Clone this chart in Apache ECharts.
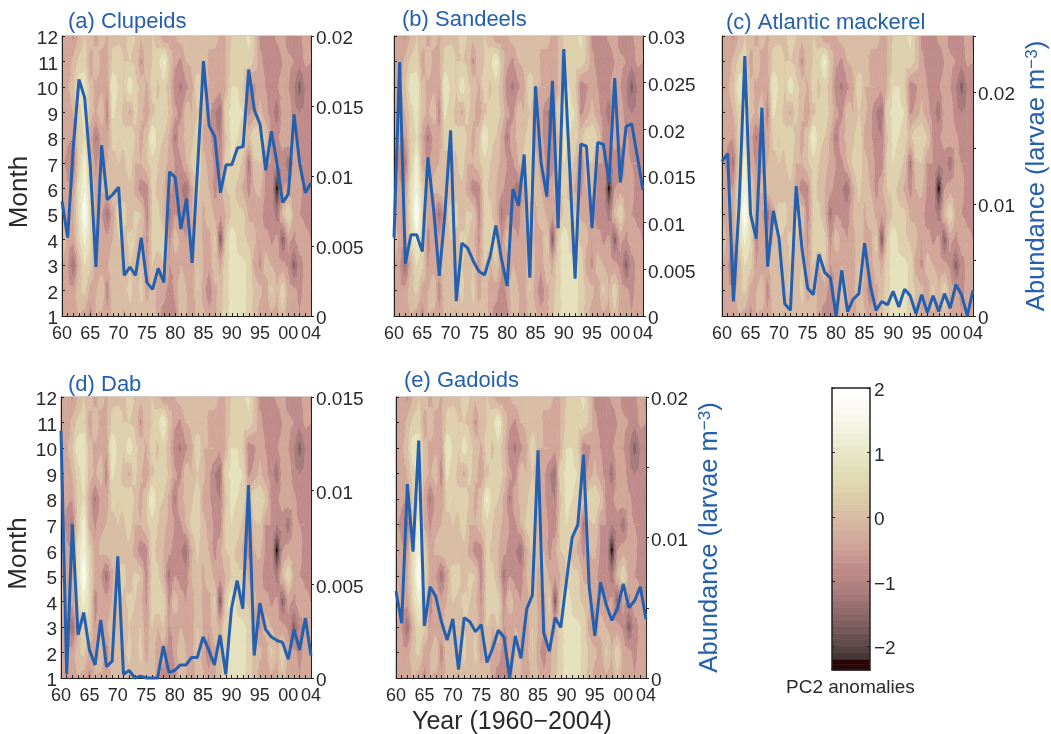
<!DOCTYPE html>
<html><head><meta charset="utf-8">
<style>html,body{margin:0;padding:0;background:#fff}#c{width:1051px;height:734px}</style>
<script src="https://cdn.jsdelivr.net/npm/echarts@6/dist/echarts.min.js"></script>
</head><body><div id="c"></div>
<script>
const years=[1960,1961,1962,1963,1964,1965,1966,1967,1968,1969,1970,1971,1972,1973,1974,1975,1976,1977,1978,1979,1980,1981,1982,1983,1984,1985,1986,1987,1988,1989,1990,1991,1992,1993,1994,1995,1996,1997,1998,1999,2000,2001,2002,2003,2004];
const months=[1,2,3,4,5,6,7,8,9,10,11,12];
// PC2 anomalies, one row per month (1 to 12), one column per year (1960 to 2004)
const pc2m1 =[-.2,-.5,-.3,-.2,-.4,-.8,-.2,-.3,-.5,-.1,.1,-.3,.1,-.2,.1,.1,.2,-.5,-.8,-1,-.8,0,-.2,-.5,-.1,-.1,-.4,-.3,.1,.5,.7,.7,.7,.4,0,-.4,-.4,-.3,-.4,.1,-.5,-.5,-.6,-.4,-.6];
const pc2m2 =[-.3,-.5,-.5,.1,.3,-.4,-.2,.2,-.9,.1,-.1,.1,.3,-.1,.3,-.5,.1,-.5,-.4,-.9,-.5,.1,-.2,-.4,.2,-.4,-1,-.3,-.1,.5,.7,.7,.7,.5,.1,-.1,-.5,.3,-.2,.5,-.4,-.5,-.7,-.5,-.6];
const pc2m3 =[-.3,-.6,-1.4,-.2,.6,.3,-.6,-.4,-.3,.2,.1,-.2,.2,.1,.2,-.6,.2,-.2,.2,-.6,-.5,-.2,-.4,-.5,.2,-.2,-.5,.1,-.3,.5,.7,.7,.7,.5,-.4,-.7,0,-.2,-.4,-.5,-.7,-1.6,-.8,-.5,-.5];
const pc2m4 =[.3,-.4,-.5,.5,1.1,.6,-.9,-.2,-.5,-.2,.2,.1,.3,.2,-.1,-.7,.3,.5,.4,-.7,.1,-.4,-.6,-.4,.1,-.3,-.4,.3,-1.7,.2,1,.5,.3,.1,-.1,-.6,-.4,-.7,-.5,-1.6,-.5,-.7,-.3,-.5,-.6];
const pc2m5 =[-.3,-.5,-.3,.6,1.8,.5,-.3,-.6,-1.3,-.4,.5,.3,-.1,.3,.2,-.9,.2,.3,-.2,-1.2,-.6,-.8,-.8,-.2,.1,-.3,.1,-.3,-.6,-.2,.2,.3,.3,-.3,-.3,-.4,-.9,-.7,-1.2,-.1,.6,-.4,-.6,-.7,-.7];
const pc2m6 =[-.1,-.5,-.6,.7,1.3,.4,-.5,-.1,0,.2,-.2,.1,.1,-.4,-.9,-.8,.3,.1,-.2,-.5,-.8,-1,-1.3,-.3,.3,-.1,-.2,-.8,-.3,.2,.3,.1,-.3,-.8,-.2,-.1,-.7,-.7,-2.4,-.6,-.4,-.4,-.5,-.8,-1];
const pc2m7 =[-.5,-.8,-1.2,.3,1.2,-.3,-.7,-.3,-.2,.1,.2,.1,.4,-.2,-.2,.1,.4,.2,-.1,-.3,-.6,-.7,-.2,.3,.5,-.1,-.3,-.7,-.9,.3,.6,.4,.1,-1.2,.1,.2,-.6,-.6,-1,-.8,-1.3,-.5,-.6,-.6,-.8];
const pc2m8 =[-.2,-.5,-.6,.3,.6,-.4,-1.1,-.5,-.5,.3,.2,.3,.6,.1,-.4,.1,1.1,.3,.2,-.3,-1.1,-.3,-.1,.1,.5,-.3,-.5,-.9,-1,.1,.7,.6,.4,0,.6,.6,.2,-.7,-.7,-.4,-.3,-.5,-.8,-.7,-.7];
const pc2m9 =[-.5,-.4,-.2,.4,.8,0,-.3,.1,-.9,.7,.3,.1,-.3,.3,-.1,-.6,.1,.3,.5,.1,-.5,-.8,.1,-.2,.2,-.1,-.5,-1,-1.3,.5,.7,.7,.6,-.7,-.5,-.1,-.5,-.8,-1.3,-.4,-.3,-.9,-1,-.9,-.8];
const pc2m10=[-.5,-.3,.1,.9,.9,-.1,-.3,-.3,-.6,1,.5,.2,.9,.3,.1,-.3,.4,.1,.4,-.1,-.9,-1.1,-.7,-.3,.6,-.2,-.2,-.2,-.5,-.2,.6,.6,.2,-.9,-.7,-.3,-.6,-.8,-.7,-.3,-.6,-1,-1.6,-1,-.9];
const pc2m11=[-.5,-.5,-.1,.3,.4,-.5,.1,-.4,-.3,.3,.4,.2,.2,.1,-.7,.1,.2,.4,1.1,.1,-.5,-.7,-.2,-.1,-.1,.2,-.3,-.4,-.6,-.2,.3,.3,.3,.5,.1,-.5,-.8,-.9,-.9,-.6,-.5,-.6,-.9,-.5,-.6];
const pc2m12=[-.6,-.3,-.7,-.2,.2,.1,-.4,0,-.3,.1,.1,.1,.3,.2,-.1,.1,.2,0,-.6,-.5,-.2,0,.1,.1,.1,-.2,-.1,0,-.3,-.2,.2,.2,.5,.7,.1,-.7,-.8,-.8,-.5,-.4,-.8,-.9,-.9,-.2,-.7];
const pc2Field=[pc2m1,pc2m2,pc2m3,pc2m4,pc2m5,pc2m6,pc2m7,pc2m8,pc2m9,pc2m10,pc2m11,pc2m12];
// larvae abundance per year
const clupeids=[.0082,.0056,.0121,.0169,.0156,.0107,.0035,.0122,.0083,.0087,.0092,.0029,.0035,.0029,.0056,.0024,.0019,.0034,.0024,.0103,.0099,.0062,.0084,.0038,.0109,.0182,.0136,.0128,.0088,.0108,.0108,.012,.0121,.0176,.0147,.0137,.0104,.0132,.0109,.0081,.0087,.0144,.0109,.0088,.0095];
const sandeels=[.0084,.0272,.0056,.0087,.0087,.0069,.017,.0114,.0043,.011,.0199,.0016,.0078,.0073,.0059,.0048,.0044,.0064,.0097,.0061,.0032,.0136,.0118,.0173,.0041,.0246,.0164,.0128,.0252,.0094,.0286,.0164,.004,.0184,.0182,.0094,.0186,.0184,.0143,.0255,.0143,.0203,.0206,.0171,.0135];
const mackerel=[.0138,.0145,.0013,.0099,.0232,.0091,.0069,.0186,.0044,.0094,.0069,.0011,.0005,.0116,.0061,.0025,.0019,.0055,.0039,.0034,0,.0041,.0004,.0015,.002,.0065,.0027,.0005,.0013,.001,.0022,.0008,.0024,.0018,.0002,.0019,.0003,.0018,.0004,.002,.0007,.0028,.0019,0,.0023];
const dab=[.0132,.0002,.0082,.0023,.0035,.0015,.0007,.0031,.0006,.0009,.0065,.0002,.0004,0,.0001,0,0,0,.0017,.0003,.0004,.0007,.0007,.0011,.0011,.0022,.0015,.0007,.0023,.0002,.0037,.0052,.0037,.0103,.0012,.004,.0026,.0022,.002,.0019,.001,.0026,.0015,.0032,.0012];
const gadoids=[.0062,.0039,.0138,.009,.0169,.0037,.0065,.0058,.004,.0027,.0042,.0006,.0043,.004,.0033,.0038,.0011,.0021,.0034,.0029,0,.003,.0014,.0049,.0059,.0162,.0032,.0019,.0043,.0036,.0069,.01,.0109,.0159,.0065,.003,.0068,.0052,.0041,.005,.0067,.005,.0055,.0065,.0042];
const panelTitles=['(a) Clupeids','(b) Sandeels','(c) Atlantic mackerel','(d) Dab','(e) Gadoids'];
const panelSeries=[clupeids,sandeels,mackerel,dab,gadoids];
const panelMax=[.02,.03,.025,.015,.02];
const panelLabels=[[0,.005,.01,.015,.02],[0,.005,.01,.015,.02,.025,.03],[0,.01,.02],[0,.005,.01,.015],[0,.01,.02]];
const contourLevels=[-3,-2.2,-1.8,-1.4,-1,-.6,-.2,.2,.6,1,1.4,1.8,2.5];
const colourValues=[2,1.5,1,.6,.3,0,-.4,-.8,-1.2,-1.6,-2,-2.25,-2.37];
const colourStops=['#ffffff','#f6f6ea','#e8e8c6','#e1dab4','#dccba9','#d8bca4','#d1a698','#bf8b89','#a67a7b','#846363','#5a4747','#3a2c2c','#2a0505'];
const barLevels=[-2.37,-2.28,-2.2,-2.1,-2,-1.9,-1.8,-1.7,-1.6,-1.5,-1.4,-1.3,-1.2,-1.1,-1,-.9,-.8,-.7,-.6,-.5,-.4,-.3,-.2,-.1,0,.1,.2,.3,.4,.5,.6,.7,.8,.9,1,1.1,1.2,1.3,1.4,1.5,1.6,1.7,1.8,1.9,2];
const barTicks=[-2,-1,0,1,2];

const FONT='"Liberation Sans",Arial,sans-serif', INK='#2a2a2a', BLUE='#2460ae';
const rects=[[62,36,249,280],[394,36,249,280],[722,36,251,280],[61,397,250,281],[396,397,250,281]];
const titleLeft=[68,402,726,68,404], titleTop=[11,9,12,374,370];

function hex(c){return [1,3,5].map(i=>parseInt(c.substr(i,2),16));}
function colourAt(v){
  for(let i=0;i<colourValues.length-1;i++){
    const a=colourValues[i],b=colourValues[i+1];
    if(v<=a&&v>=b){const t=(a-v)/(a-b),p=hex(colourStops[i]),q=hex(colourStops[i+1]);
      return 'rgb('+p.map((x,k)=>Math.round(x+(q[k]-x)*t)).join(',')+')';}
  }
  return v>2?colourStops[0]:colourStops[colourStops.length-1];
}
function clip(poly,level,above){
  const out=[];
  for(let i=0;i<poly.length;i++){
    const a=poly[i],b=poly[(i+1)%poly.length];
    const ain=above?a[2]>=level:a[2]<=level,bin=above?b[2]>=level:b[2]<=level;
    if(ain)out.push(a);
    if(ain!==bin){const t=(level-a[2])/(b[2]-a[2]);out.push([a[0]+(b[0]-a[0])*t,a[1]+(b[1]-a[1])*t,level]);}
  }
  return out;
}
const cells=[];
for(let m=0;m<months.length-1;m++)for(let y=0;y<years.length-1;y++)
  cells.push([years[y],months[m],pc2Field[m][y],pc2Field[m][y+1],pc2Field[m+1][y+1],pc2Field[m+1][y]]);

function renderCell(params,api){
  const x=api.value(0),y=api.value(1),a=api.value(2),b=api.value(3),c=api.value(4),d=api.value(5);
  const cen=[x+.5,y+.5,(a+b+c+d)/4];
  const q=[[x,y,a],[x+1,y,b],[x+1,y+1,c],[x,y+1,d]];
  const children=[];
  for(let i=0;i<4;i++){
    const tri=[q[i],q[(i+1)%4],cen];
    const lo=Math.min(tri[0][2],tri[1][2],tri[2][2]),hi=Math.max(tri[0][2],tri[1][2],tri[2][2]);
    for(let l=0;l<contourLevels.length-1;l++){
      const L=contourLevels[l],H=contourLevels[l+1];
      if(hi<L||lo>H)continue;
      let p=clip(tri,L,true);if(p.length<3)continue;
      p=clip(p,H,false);if(p.length<3)continue;
      const col=colourAt(L<-2.5?-2.37:(L+H)/2);
      children.push({type:'polygon',shape:{points:p.map(v=>api.coord([v[0],v[1]]))},style:{fill:col,stroke:col,lineWidth:.7},silent:true});
    }
  }
  return {type:'group',children};
}
function renderBar(params,api){
  const lo=api.value(0),hi=api.value(1);
  const p=api.coord([0,hi]),r=api.coord([1,lo]);
  const col=colourAt(lo<=-2.28?-2.37:(lo+hi)/2);
  return {type:'rect',shape:{x:p[0],y:p[1],width:r[0]-p[0],height:r[1]-p[1]+.6},style:{fill:col},silent:true};
}
const axisLine={show:true,onZero:false,lineStyle:{color:'#222',width:1}};
const grid=[],xAxis=[],yAxis=[],series=[],title=[];
rects.forEach((r,i)=>{
  grid.push({left:r[0],top:r[1],width:r[2],height:r[3],show:true,borderColor:'#a8948c',borderWidth:1,backgroundColor:'transparent'});
  xAxis.push({gridIndex:i,type:'value',min:1960,max:2004,interval:1,z:5,axisLine,splitLine:{show:false},
    axisTick:{show:true,inside:true,length:3,lineStyle:{color:'#222'}},
    axisLabel:{show:true,showMinLabel:true,showMaxLabel:true,hideOverlap:false,interval:0,margin:9,color:INK,fontFamily:FONT,fontSize:18,
      formatter:v=>(v%5===0||v===2004)?String(v%100).padStart(2,'0'):''}});
  const showMonth=i===0||i===3;
  yAxis.push({gridIndex:i,type:'value',position:'left',min:1,max:12,interval:1,z:5,axisLine,splitLine:{show:false},
    axisTick:{show:true,inside:true,length:3,lineStyle:{color:'#222'}},
    axisLabel:{show:showMonth,margin:4,verticalAlign:'top',lineHeight:6,color:INK,fontFamily:FONT,fontSize:19},
    name:showMonth?'Month':'',nameLocation:'middle',nameGap:23,nameTextStyle:{color:INK,fontFamily:FONT,fontSize:26,padding:[0,32,0,0]}});
  const withAbundance=i===2||i===4;
  yAxis.push({gridIndex:i,type:'value',position:'right',min:0,max:panelMax[i],interval:.005,z:5,axisLine,splitLine:{show:false},
    axisTick:{show:true,inside:false,length:3,lineStyle:{color:'#222'}},
    axisLabel:{show:true,margin:5,verticalAlign:'top',lineHeight:6,color:INK,fontFamily:FONT,fontSize:19,
      formatter:v=>panelLabels[i].some(t=>Math.abs(t-v)<1e-6)?String(+v.toFixed(3)):''},
    name:withAbundance?'{a|Abundance (larvae m}{s|\u22123}{a|)}':'',nameLocation:'middle',nameGap:51,
    nameTextStyle:{color:BLUE,fontFamily:FONT,fontSize:25.5,rich:{a:{color:BLUE,fontFamily:FONT,fontSize:25.5},s:{color:BLUE,fontFamily:FONT,fontSize:17,verticalAlign:'top'}}}});
  series.push({type:'custom',xAxisIndex:i,yAxisIndex:2*i,coordinateSystem:'cartesian2d',data:cells,renderItem:renderCell,
    encode:{x:0,y:1},animation:false,progressive:0,silent:true,z:1,clip:true});
  series.push({type:'line',xAxisIndex:i,yAxisIndex:2*i+1,data:years.map((y,k)=>[y,panelSeries[i][k]]),showSymbol:false,
    lineStyle:{color:BLUE,width:3},animation:false,silent:true,z:8,clip:false});
  title.push({text:panelTitles[i],left:titleLeft[i],top:titleTop[i],padding:0,
    textStyle:{color:BLUE,fontFamily:FONT,fontSize:22,fontWeight:'normal'}});
});
// colour bar
const bi=rects.length;
grid.push({left:832,top:388,width:38,height:282,show:false});
xAxis.push({gridIndex:bi,type:'value',min:0,max:1,position:'bottom',z:5,axisLine:{show:true,onZero:false,lineStyle:{color:'#222',width:1.5}},axisTick:{show:false},axisLabel:{show:false},splitLine:{show:false}});
xAxis.push({gridIndex:bi,type:'value',min:0,max:1,position:'top',z:5,axisLine:{show:true,onZero:false,lineStyle:{color:'#222',width:1.5}},axisTick:{show:false},axisLabel:{show:false},splitLine:{show:false}});
const barFmt=v=>String(v).replace('-','\u2212');
yAxis.push({gridIndex:bi,type:'value',min:-2.37,max:2,position:'right',z:5,axisLine:{show:true,onZero:false,lineStyle:{color:'#222',width:1.5}},splitLine:{show:false},
  axisTick:{show:true,inside:true,length:3,customValues:barTicks,lineStyle:{color:'#222'}},
  axisLabel:{show:true,margin:4,verticalAlign:'top',lineHeight:6,customValues:barTicks,formatter:barFmt,color:INK,fontFamily:FONT,fontSize:19}});
yAxis.push({gridIndex:bi,type:'value',min:-2.37,max:2,position:'left',z:5,axisLine:{show:true,onZero:false,lineStyle:{color:'#222',width:1.5}},splitLine:{show:false},
  axisTick:{show:true,inside:true,length:3,customValues:barTicks,lineStyle:{color:'#222'}},axisLabel:{show:false}});
series.push({type:'custom',xAxisIndex:bi,yAxisIndex:2*bi,coordinateSystem:'cartesian2d',
  data:barLevels.slice(0,-1).map((v,k)=>[v,barLevels[k+1]]),renderItem:renderBar,encode:{y:[0,1]},animation:false,silent:true,z:1});
title.push({text:'PC2 anomalies',left:786,top:678,padding:0,textStyle:{color:INK,fontFamily:FONT,fontSize:19,fontWeight:'normal'}});
title.push({text:'Year (1960\u22122004)',left:412,top:710,padding:0,textStyle:{color:INK,fontFamily:FONT,fontSize:25,fontWeight:'normal'}});

const chart=echarts.init(document.getElementById('c'),null,{renderer:'canvas'});
chart.setOption({animation:false,backgroundColor:'#fff',title,grid,xAxis,yAxis,series,tooltip:{show:false}});
</script></body></html>
